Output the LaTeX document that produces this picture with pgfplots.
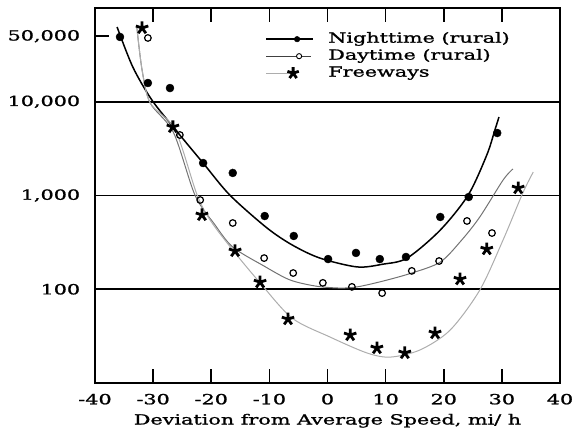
\documentclass[border=0pt]{standalone}
\usepackage{fontspec}
\setmainfont[FakeStretch=1.48,FakeBold=1.3]{DejaVu Serif}
\usepackage{pgfplots}
\pgfplotsset{compat=1.18}
\definecolor{daygray}{gray}{0.45}
\definecolor{fwgray}{gray}{0.68}
\begin{document}
\fontsize{14bp}{16bp}\selectfont
\begin{tikzpicture}
\begin{axis}[
  scale only axis, width=465bp, height=375bp,
  xmin=-40, xmax=40, ymode=log, ymin=10, ymax=1e5,
  axis line style={line width=1.8bp},
  xtick={-40,-30,...,40}, xtick pos=both,
  ytick={100,1000,10000,50000},
  yticklabels={\textrm{100},\textrm{1,000},\textrm{10,000},\textrm{50,000}},
  ytick pos=left, yminorticks=false, xminorticks=false,
  tick align=inside, major tick length=14bp,
  tick style={black, line width=1.6bp},
  extra y ticks={100,1000,10000}, extra y tick labels={},
  extra y tick style={grid=major, major grid style={black, line width=1.8bp}},
  /pgf/number format/assume math mode=true,
  yticklabel style={xshift=-10bp},
  xticklabel style={yshift=-6bp},
  xlabel={Deviation from Average Speed, mi/ h},
  xlabel style={at={(axis description cs:0.5,0)}, anchor=north, yshift=-26bp},
  legend style={at={(axis description cs:0.3656,0.94)}, anchor=north west,
    draw=none, fill=none, inner sep=0pt, row sep=0pt,
    nodes={inner sep=2bp, text height=10bp, text depth=3bp}},
  legend cell align=left,
]
% fitted curves
\addplot[black, line width=1.5bp, smooth, forget plot] coordinates {
 (-36.2,62700) (-33.5,23500) (-30.2,10400) (-26,4900) (-21.4,2220) (-16.8,1010)
 (-10.4,450) (-6,295) (-1.3,215) (5.1,173) (9.5,185) (13.7,215) (19.4,428)
 (24.2,1010) (27.4,2700) (28.8,5000) (29.5,6870)};
\addplot[daygray, line width=1bp, smooth, forget plot] coordinates {
 (-32.8,62000) (-31.9,21800) (-30.5,9700) (-26.5,4700) (-22.8,1010) (-19.5,500)
 (-16.3,282) (-11,178) (-6.5,126) (-2,108) (2.1,103) (5.1,106) (9.5,122) (14.5,149)
 (19.4,195) (23,330) (26.2,590) (30.2,1460) (31.9,1920)};
\addplot[fwgray, line width=1bp, smooth, forget plot] coordinates {
 (-32.8,62000) (-31.9,21800) (-30.5,9700) (-26.2,5000) (-22.5,1040) (-20.2,548)
 (-16.3,262) (-11.6,117) (-6.1,49.3) (0.4,31) (6.8,20.9) (10.8,18.9) (15.9,22.5)
 (21.1,36.7) (26.2,98) (30.2,335) (33.6,1064) (35.4,1780)};
% data points
\addplot[only marks, mark=*, mark size=4bp, black,
  legend image code/.code={
    \draw[black,line width=1.8bp] (0bp,0bp)--(47bp,0bp);
    \fill[black] (31bp,0bp) circle (2.8bp);
    \path (60bp,0bp);}] coordinates {
 (-35.7,49100) (-30.9,15850) (-27.1,14000) (-21.4,2220) (-16.3,1740) (-10.8,604)
 (-5.8,370) (0.1,210) (4.9,244) (9.0,210) (13.5,221) (19.4,590) (24.3,964) (29.2,4640)};
\addlegendentry{Nighttime (rural)}
\addplot[only marks, mark=o, mark size=3.3bp, black, mark options={fill=white, line width=1.2bp},
  legend image code/.code={
    \draw[black!75,line width=1.2bp] (0bp,0bp)--(45bp,0bp);
    \filldraw[fill=white,draw=black,line width=0.9bp] (33bp,0bp) circle (2.6bp);
    \path (60bp,0bp);}] coordinates {
 (-30.9,47900) (-25.4,4420) (-21.9,895) (-16.3,509) (-10.9,215) (-5.9,149) (-0.8,117)
 (4.2,106) (9.4,91) (14.5,157) (19.2,200) (24.0,535) (28.3,398)};
\addlegendentry{Daytime (rural)}
\addplot[only marks, mark=star, mark size=6.5bp, black, mark options={line width=2.8bp},
  legend image code/.code={
    \draw[fwgray,line width=1bp] (0bp,0bp)--(26bp,0bp);
    \draw[black, line width=2.6bp, mark=star, mark size=6bp] plot coordinates {(27bp,0bp)};
    \path (60bp,0bp);}] coordinates {
 (-31.9,61200) (-26.6,5380) (-21.6,620) (-15.9,256) (-11.6,119) (-6.8,48) (3.9,32.5)
 (8.5,23.6) (13.3,20.9) (18.5,34.1) (22.8,128) (27.4,268) (32.8,1200)};
\addlegendentry{Freeways}
\coordinate (A) at (rel axis cs:0,0);
\coordinate (B) at (rel axis cs:1,1);
\end{axis}
\pgfresetboundingbox
\path ([xshift=-95bp,yshift=-46bp]A) rectangle ([xshift=15bp,yshift=8bp]B);
\end{tikzpicture}
\end{document}
